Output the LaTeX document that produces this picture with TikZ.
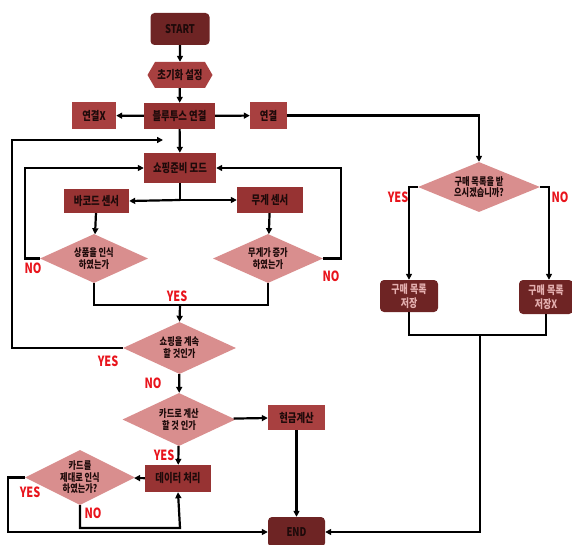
\documentclass[tikz,border=0pt]{standalone}
\usepackage{fontspec}
\usetikzlibrary{arrows.meta,shapes.geometric,shapes.symbols}
\newfontfamily\krf[FakeStretch=0.78]{Noto Sans CJK KR}
\definecolor{darkred}{HTML}{6E2424}
\definecolor{midred}{HTML}{973333}
\definecolor{litred}{HTML}{A84040}
\definecolor{pinkd}{HTML}{D98E8E}
\definecolor{lbl}{HTML}{E8141C}
\definecolor{txt}{HTML}{1E0A0A}
\tikzset{
  base/.style={inner sep=0pt, text=txt, font=\krf\bfseries\fontsize{12}{13}\selectfont, align=center},
  boxm/.style={base, rectangle, fill=midred},
  boxl/.style={base, rectangle, fill=litred},
  term/.style={base, rectangle, rounded corners=4pt, fill=darkred},
  dia/.style={base, diamond, aspect=2.3, fill=pinkd, font=\krf\bfseries\fontsize{10.5}{12}\selectfont},
  lbly/.style={text=lbl, font=\krf\bfseries\fontsize{14}{14}\selectfont, inner sep=0pt},
  conn/.style={line width=2.2pt, draw=black},
  arr/.style={conn, -{Triangle[length=6pt,width=6pt]}}
}
\begin{document}
\begin{tikzpicture}[x=1pt,y=-1pt]
\useasboundingbox (0,0) rectangle (572,545);
% nodes
\node[term, minimum width=59pt, minimum height=32pt] (start) at (180,29) {START};
\node[base, shape=signal, signal to=west and east, signal pointer angle=120, fill=litred, minimum width=65pt, minimum height=26pt] (init) at (180,75) {초기화 설정};
\node[boxm, minimum width=71pt, minimum height=26pt] (bt) at (179.5,116) {블루투스 연결};
\node[boxl, minimum width=44pt, minimum height=27pt] (ncon) at (94,115.5) {연결X};
\node[boxl, minimum width=37pt, minimum height=27pt] (con) at (268.5,115.5) {연결};
\node[boxm, minimum width=72pt, minimum height=30pt] (ready) at (180,168) {쇼핑준비 모드};
\node[boxm, minimum width=65pt, minimum height=24pt] (bar) at (96.5,201) {바코드 센서};
\node[boxm, minimum width=66pt, minimum height=26pt] (wt) at (270,200) {무게 센서};
\node[dia, minimum width=108pt, minimum height=49pt] (d1) at (94,258.5) {상품을 인식\\하였는가};
\node[dia, minimum width=110pt, minimum height=49pt] (d2) at (268,258.5) {무게가 증가\\하였는가};
\node[dia, minimum width=113pt, minimum height=52pt] (d3) at (179.5,348) {쇼핑을 계속\\할 것인가};
\node[dia, minimum width=113pt, minimum height=53pt] (d4) at (179,419.5) {카드로 계산\\할 것 인가};
\node[boxl, minimum width=57pt, minimum height=25pt] (cash) at (296.5,417.5) {현금계산};
\node[boxm, minimum width=66pt, minimum height=27pt] (data) at (178,478.5) {데이터 처리};
\node[dia, aspect=2, minimum width=110pt, minimum height=55pt, font=\krf\bfseries\fontsize{10.5}{11.5}\selectfont] (d5) at (80,477.5) {카드를\\제대로 인식\\하였는가?};
\node[term, minimum width=57pt, minimum height=30pt] (end) at (296.5,532) {END};
\node[dia, aspect=2.4, minimum width=122pt, minimum height=50pt, font=\krf\bfseries\fontsize{10.5}{11.5}\selectfont] (d6) at (479,187) {구매 목록을 받\\으시겠습니까?};
\node[term, text=pinkd!70!white, font=\krf\bfseries\fontsize{11.5}{14}\selectfont, minimum width=58pt, minimum height=32pt] (sv) at (409,296) {구매 목록\\저장};
\node[term, text=pinkd!70!white, font=\krf\bfseries\fontsize{11.5}{14}\selectfont, minimum width=54pt, minimum height=34pt] (nsv) at (546,297) {구매 목록\\저장X};
% coordinates
\coordinate (loopin) at (163,140);
\coordinate (split) at (180,200);
\coordinate (join) at (180,305);
\coordinate (merge) at (480,335);
% connectors
\draw[arr] (start) -- (init);
\draw[arr] (init) -- (bt);
\draw[arr] (bt) -- (ncon);
\draw[arr] (bt) -- (con);
\draw[arr] (bt) -- (ready);
\draw[arr] (con.east) -| (d6.north);
\draw[conn] (ready.south) -- (split);
\draw[arr] (split) -- (bar.east);
\draw[arr] (split) -- (wt.west);
\draw[arr] (bar) -- (d1);
\draw[arr] (wt) -- (d2);
\draw[arr] (d1.west) -- ++(-15,0) |- (ready.west);
\draw[arr] (d2.east) -- ++(18,0) |- (ready.east);
\draw[conn] (d1.south) |- (join) -| (d2.south);
\draw[arr] (join) -- (d3.north);
\draw[arr] (d3.west) -| (12,140) -- (loopin);
\draw[arr] (d3) -- (d4);
\draw[arr] (d4) -- (cash);
\draw[arr] (cash) -- (end);
\draw[arr] (d4) -- (data);
\draw[arr] (data) -- (d5);
\draw[arr] (d5.south) |- (180,528) -- (data.south);
\draw[arr] (d5.west) -- (8,477.5) |- (end.west);
\draw[arr] (d6.west) -- (409,187) -- (sv.north);
\draw[arr] (d6.east) -- (549,187) -- (nsv.north -| 549,0);
\draw[conn] (sv.south) |- (merge) -| (nsv.south);
\draw[arr] (merge) |- (end.east);
% labels
\node[lbly] (n1) at (33,268) {NO};
\node[lbly] (n2) at (331,276) {NO};
\node[lbly] (y1) at (177,296) {YES};
\node[lbly] (y2) at (108,361) {YES};
\node[lbly] (n3) at (153,383) {NO};
\node[lbly] (y3) at (164,455) {YES};
\node[lbly] (y4) at (30,492) {YES};
\node[lbly] (n4) at (93,513) {NO};
\node[lbly] (y5) at (398,197) {YES};
\node[lbly] (n5) at (560,197) {NO};
\end{tikzpicture}
\end{document}
